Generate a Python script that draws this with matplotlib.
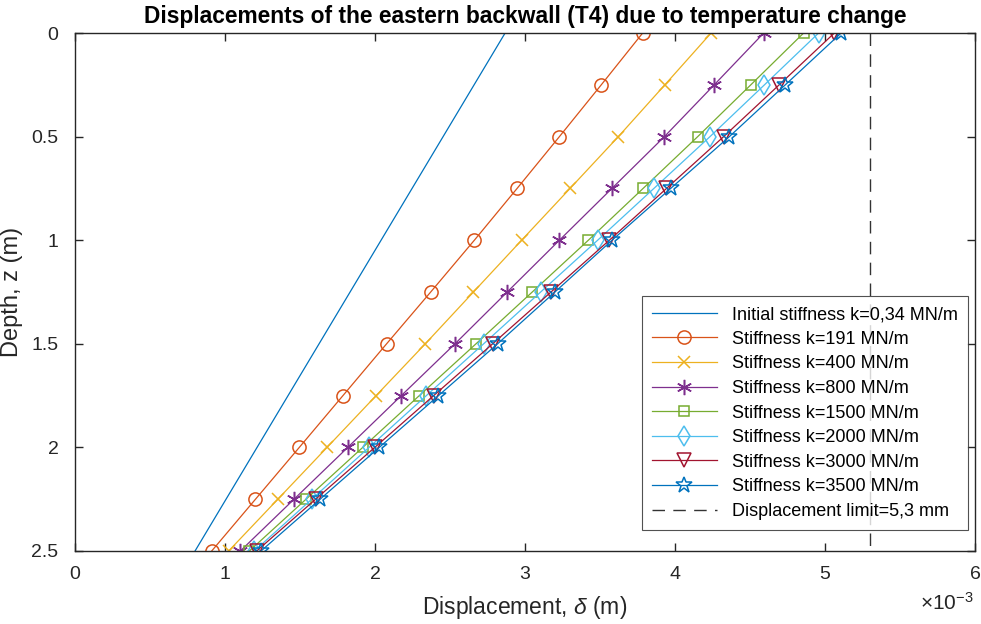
import matplotlib
matplotlib.use("Agg")
import matplotlib.pyplot as plt
from matplotlib.ticker import ScalarFormatter
import numpy as np

plt.rcParams['font.family'] = ['Liberation Sans', 'DejaVu Sans']
plt.rcParams['mathtext.fontset'] = 'custom'
plt.rcParams['mathtext.rm'] = 'Liberation Sans'
plt.rcParams['mathtext.it'] = 'Liberation Sans:italic'

# Depth below top of the backwall (m)
depth = [0.0, 0.25, 0.5, 0.75, 1.0, 1.25, 1.5, 1.75, 2.0, 2.25, 2.5]
depth_initial = [0.0, 2.5]

# Horizontal displacements in units of 1e-3 m
disp_initial = [2.867, 0.800]
disp_k191 = [3.784, 3.508, 3.229, 2.947, 2.662, 2.371, 2.077, 1.786, 1.495, 1.203, 0.911]
disp_k400 = [4.240, 3.932, 3.622, 3.300, 2.977, 2.656, 2.335, 2.007, 1.680, 1.352, 1.024]
disp_k800 = [4.591, 4.261, 3.929, 3.579, 3.229, 2.881, 2.533, 2.175, 1.818, 1.460, 1.102]
disp_k1500 = [4.857, 4.505, 4.151, 3.787, 3.422, 3.048, 2.673, 2.295, 1.918, 1.540, 1.162]
disp_k2000 = [4.957, 4.596, 4.233, 3.859, 3.484, 3.104, 2.724, 2.342, 1.960, 1.578, 1.195]
disp_k3000 = [5.062, 4.694, 4.324, 3.943, 3.562, 3.173, 2.784, 2.391, 1.998, 1.604, 1.211]
disp_k3500 = [5.107, 4.735, 4.362, 3.971, 3.580, 3.199, 2.817, 2.423, 2.028, 1.634, 1.240]
disp_limit = 5.3

labels = [
    "Initial stiffness k=0,34 MN/m",
    "Stiffness k=191 MN/m",
    "Stiffness k=400 MN/m",
    "Stiffness k=800 MN/m",
    "Stiffness k=1500 MN/m",
    "Stiffness k=2000 MN/m",
    "Stiffness k=3000 MN/m",
    "Stiffness k=3500 MN/m",
    "Displacement limit=5,3 mm",
]

colors = ["#0072BD", "#D95319", "#EDB120", "#7E2F8E", "#77AC30",
          "#4DBEEE", "#A2142F", "#0072BD"]
markers = [None, "o", "x", (6, 2, 0), "s", "d", "v", "*"]
msizes = [0, 9.5, 9, 11, 7, 10, 9.5, 12]

series = [disp_k191, disp_k400, disp_k800, disp_k1500, disp_k2000,
          disp_k3000, disp_k3500]

fig = plt.figure(figsize=(9.81, 6.24), dpi=100)
ax = fig.add_axes([0.0765, 0.117, 0.9174, 0.830])

scale = 1e-3
ax.plot(np.array(disp_initial) * scale, depth_initial, color=colors[0],
        lw=0.9, label=labels[0])
for i, vals in enumerate(series, start=1):
    ax.plot(np.array(vals) * scale, depth, color=colors[i], lw=0.9,
            label=labels[i], marker=markers[i], markersize=msizes[i],
            markerfacecolor="none", markeredgecolor=colors[i],
            markeredgewidth=1.1)
ax.plot([disp_limit * scale, disp_limit * scale], [0, 2.5], color="#333333",
        lw=1.0, dashes=(9, 6), label=labels[8])

ax.set_xlim(0, 6e-3)
ax.set_ylim(2.5, 0)
ax.set_xticks(np.arange(0, 6.01e-3, 1e-3))
ax.set_yticks([0, 0.5, 1, 1.5, 2, 2.5])
ax.set_yticklabels(["0", "0.5", "1", "1.5", "2", "2.5"])
fmt = ScalarFormatter(useMathText=True)
fmt.set_powerlimits((-2, 2))
ax.xaxis.set_major_formatter(fmt)
ax.xaxis.get_offset_text().set_visible(False)
ax.set_xticklabels(["0", "1", "2", "3", "4", "5", "6"])
fig.text(0.938, 0.016, r"$\times\mathregular{10^{-3}}$", fontsize=15,
         color="#262626", ha="left", va="bottom")

ax.tick_params(direction="in", length=6, width=1.0, colors="#262626",
               labelsize=14, top=True, right=True)
ax.tick_params(axis="x", pad=11)
ax.tick_params(axis="y", pad=12)
for sp in ax.spines.values():
    sp.set_color("#262626")
    sp.set_linewidth(1.0)

ax.set_xlabel(r"Displacement, $\delta$ (m)", fontsize=16.5, color="#262626",
              labelpad=8)
ax.set_ylabel("Depth, z (m)", fontsize=17, color="#262626", labelpad=6)
ax.set_title("Displacements of the eastern backwall (T4) due to temperature change",
             fontsize=16.4, fontweight="bold", color="black", pad=7)

leg = ax.legend(loc="lower right", bbox_to_anchor=(0.996, 0.034), fontsize=13,
                frameon=True, fancybox=False, edgecolor="#262626",
                handlelength=3.6, borderpad=0.55, labelspacing=0.42,
                handletextpad=0.85, borderaxespad=0.2)
leg.get_frame().set_linewidth(0.8)

fig.savefig("out.png", dpi=100)
